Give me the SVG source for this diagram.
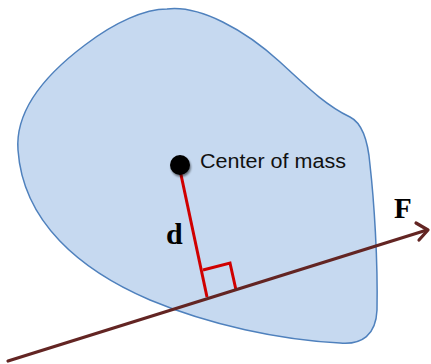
<svg xmlns="http://www.w3.org/2000/svg" width="431" height="364" viewBox="0 0 431 364">
<defs>
<style>
.blob{fill:#c6d9f0;stroke:#4f81bd;stroke-width:1.5}
.red{fill:none;stroke:#d00000;stroke-width:3}
.force{fill:none;stroke:#632523;stroke-width:3.2;stroke-linecap:round;stroke-linejoin:round}
.lbl{font-family:"Liberation Sans",Arial,sans-serif;font-size:20px;fill:#111}
.sym{font-family:"Liberation Serif","Times New Roman",serif;font-weight:bold;fill:#000}
</style>
<filter id="sh" x="-50%" y="-50%" width="200%" height="200%"><feGaussianBlur in="SourceAlpha" stdDeviation="1.2"/><feOffset dx="1" dy="1.5"/><feComponentTransfer><feFuncA type="linear" slope="0.5"/></feComponentTransfer><feMerge><feMergeNode/><feMergeNode in="SourceGraphic"/></feMerge></filter>
</defs>
<g id="body">
<path class="blob" d="M 167 9 C 200 5, 245 30, 280 62 C 305 85, 325 105, 350 117 C 362 123, 368 140, 370 165 C 374 200, 378 260, 377 310 C 376 335, 362 345, 340 343 C 280 340, 210 325, 150 300 C 80 270, 23 222, 18 150 C 15 110, 45 75, 85 45 C 115 22, 145 9, 167 9 Z"/>
</g>
<g id="connectors">
<line class="red" x1="180" y1="170" x2="207" y2="297"/>
<polyline class="red" points="203,270 230,263 236,290"/>
<line class="force" x1="8" y1="361" x2="427" y2="230"/>
<polyline class="force" points="416,223 428,230 419,240"/>
</g>
<g id="center">
<circle cx="180" cy="165" r="10" fill="#000" filter="url(#sh)"/>
<text class="lbl" x="200" y="168" textLength="146" lengthAdjust="spacingAndGlyphs">Center of mass</text>
</g>
<g id="labels">
<text class="sym" x="166" y="244" font-size="30">d</text>
<text class="sym" x="394" y="218" font-size="29">F</text>
</g>
</svg>
